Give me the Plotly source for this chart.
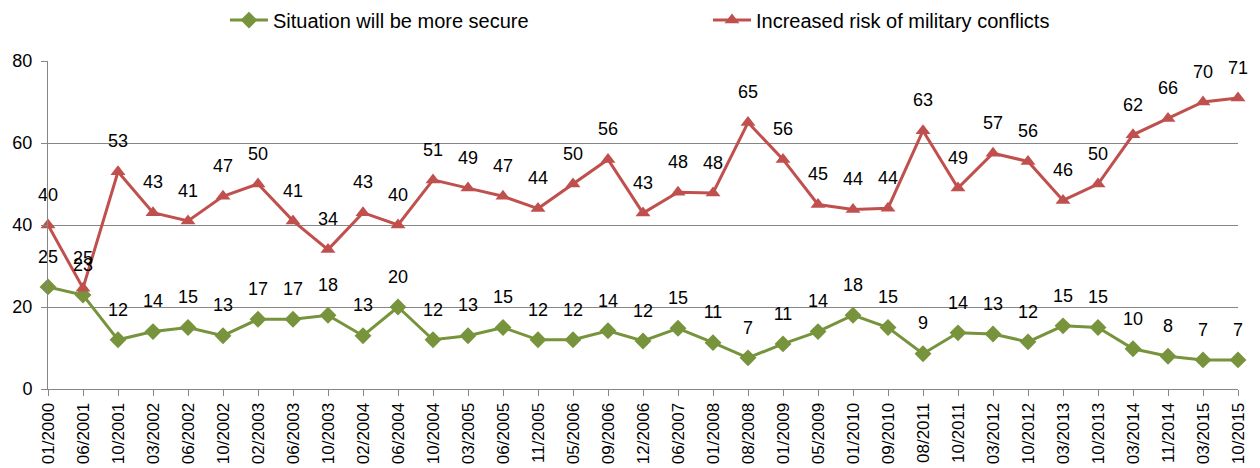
import plotly.graph_objects as go

categories = ["01/2000", "06/2001", "10/2001", "03/2002", "06/2002", "10/2002", "02/2003",
              "06/2003", "10/2003", "02/2004", "06/2004", "10/2004", "03/2005", "06/2005",
              "11/2005", "05/2006", "09/2006", "12/2006", "06/2007", "01/2008", "08/2008",
              "01/2009", "05/2009", "01/2010", "09/2010", "08/2011", "10/2011", "03/2012",
              "10/2012", "03/2013", "10/2013", "03/2014", "11/2014", "03/2015", "10/2015"]

secure_values = [24.9, 22.9, 12, 14, 15, 13, 17, 17, 18, 13, 20, 12, 13, 15, 12, 12, 14.2, 11.7,
                 14.8, 11.3, 7.6, 11, 14, 18, 15, 8.6, 13.7, 13.4, 11.5, 15.4, 15, 9.8, 8, 7.1, 7.1]
secure_labels = [25, 23, 12, 14, 15, 13, 17, 17, 18, 13, 20, 12, 13, 15, 12, 12, 14, 12,
                 15, 11, 7, 11, 14, 18, 15, 9, 14, 13, 12, 15, 15, 10, 8, 7, 7]

risk_values = [40, 24.6, 53, 43, 41, 47, 50, 41, 34, 43, 40, 51, 49, 47, 44, 50, 56, 42.9,
               48, 47.8, 65, 56, 45, 43.8, 44.1, 63, 49, 57.5, 55.5, 46, 50, 62, 66, 70, 71]
risk_labels = [40, 25, 53, 43, 41, 47, 50, 41, 34, 43, 40, 51, 49, 47, 44, 50, 56, 43,
               48, 48, 65, 56, 45, 44, 44, 63, 49, 57, 56, 46, 50, 62, 66, 70, 71]

y_ticks = [0, 20, 40, 60, 80]

GREEN = "#77933C"
RED = "#C0504D"
FONT = "Liberation Sans, Arial, sans-serif"

xs = list(range(len(categories)))

fig = go.Figure()
for name, vals, labels, color, symbol in [
    ("Situation will be more secure", secure_values, secure_labels, GREEN, "diamond"),
    ("Increased risk of military conflicts", risk_values, risk_labels, RED, "triangle-up"),
]:
    fig.add_trace(go.Scatter(
        x=xs, y=vals, name=name, mode="lines+markers",
        line=dict(color=color, width=3),
        marker=dict(symbol=symbol, size=13, color=color),
        cliponaxis=False,
    ))
for vals, labels in [(secure_values, secure_labels), (risk_values, risk_labels)]:
    fig.add_trace(go.Scatter(
        x=xs, y=vals, mode="markers+text", showlegend=False, hoverinfo="skip",
        marker=dict(size=30, opacity=0, color="white"),
        text=[str(v) for v in labels], textposition="top center",
        textfont=dict(size=18, color="#000000", family=FONT),
        cliponaxis=False,
    ))

fig.update_layout(
    width=1260, height=468,
    margin=dict(l=48, r=22, t=61, b=79),
    paper_bgcolor="white", plot_bgcolor="white",
    font=dict(family=FONT, size=17, color="#000000"),
    showlegend=True,
    legend=dict(orientation="h", x=0.5546, xanchor="center", y=0.957, yref="container",
                yanchor="middle", font=dict(size=20), entrywidth=430, itemwidth=38,
                traceorder="normal"),
    xaxis=dict(
        range=[0, len(categories) - 1], automargin=False,
        tickmode="array", tickvals=xs, ticktext=categories,
        tickangle=-90, ticks="outside", ticklen=6, tickcolor="#868686",
        showline=True, linecolor="#868686", linewidth=1,
        showgrid=False, zeroline=False, tickfont=dict(size=17),
    ),
    yaxis=dict(
        range=[0, 80], tickmode="array", tickvals=y_ticks, automargin=False,
        ticks="outside", ticklen=6, tickcolor="#868686", ticklabelstandoff=5,
        showline=True, linecolor="#868686", linewidth=1,
        showgrid=True, gridcolor="#868686", gridwidth=1, zeroline=False,
        tickfont=dict(size=18),
    ),
)

fig.write_html("out.html")
